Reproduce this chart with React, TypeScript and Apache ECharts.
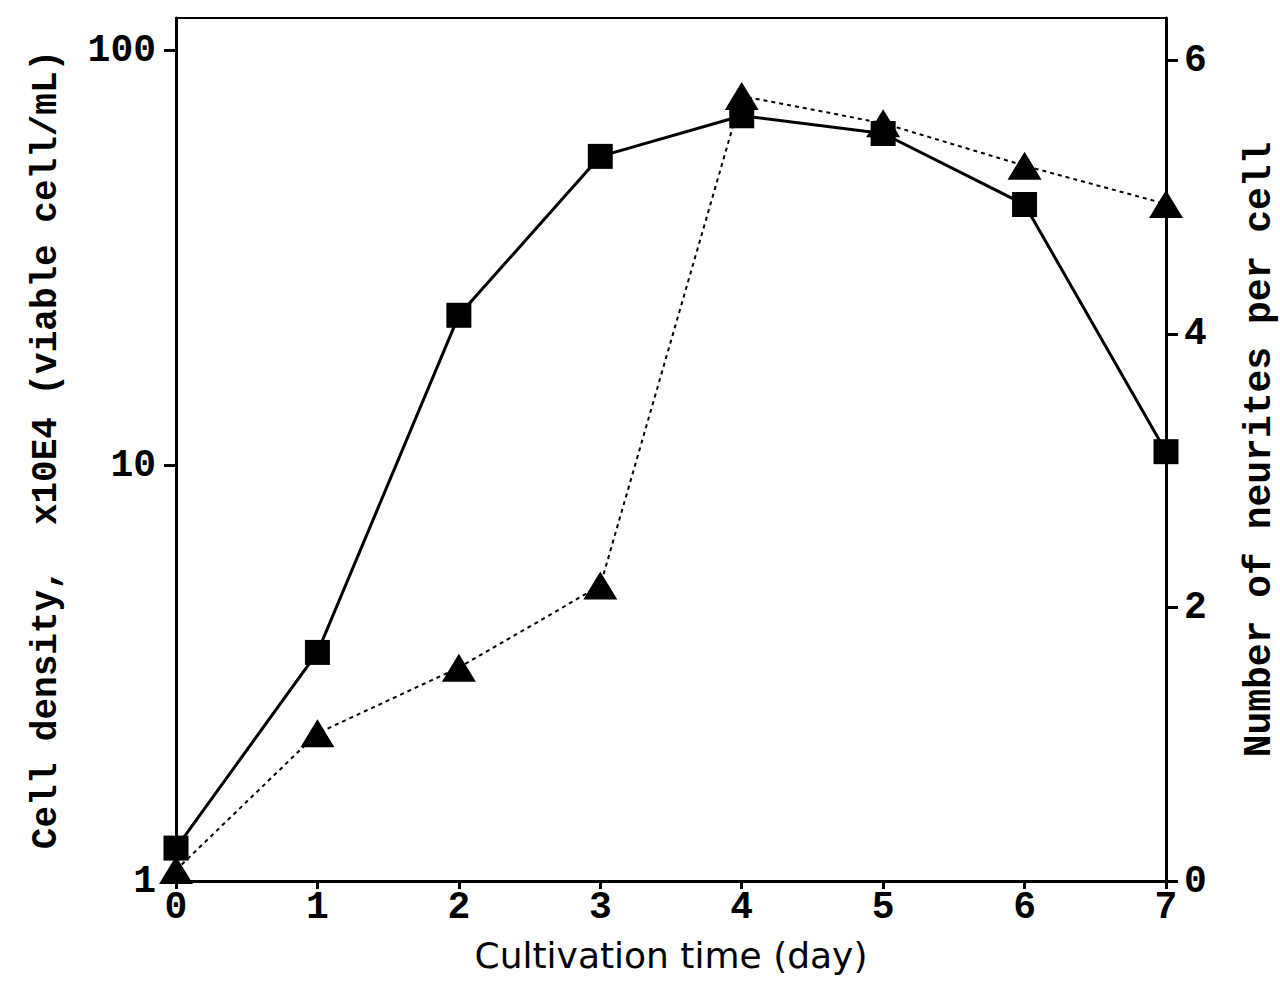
import React, { useEffect, useRef } from "react";
import * as echarts from "echarts";

const days = [0, 1, 2, 3, 4, 5, 6, 7];
const cellDensity = [1.2, 3.55, 23, 55.5, 69.5, 63, 42.5, 10.8];
const neurites = [0.08, 1.08, 1.56, 2.16, 5.74, 5.54, 5.23, 4.95];
const leftTicks = [1, 10, 100];
const rightTicks = [0, 2, 4, 6];

const monoFont = "'Liberation Mono', 'Courier New', monospace";
const sansFont = "'DejaVu Sans', sans-serif";

export default function App() {
  const ref = useRef<HTMLDivElement>(null);
  useEffect(() => {
    if (!ref.current) return;
    const chart = echarts.init(ref.current, null, { renderer: "svg" });
    const option = {
      animation: false,
      backgroundColor: "#ffffff",
      grid: {
        left: 176,
        right: 114,
        top: 18,
        bottom: 114,
        show: true,
        borderColor: "#000",
        borderWidth: 2,
        containLabel: false,
        outerBoundsMode: "none",
      },
      xAxis: {
        type: "value",
        min: 0,
        max: 7,
        interval: 1,
        name: "Cultivation time (day)",
        nameLocation: "middle",
        nameGap: 56,
        nameTextStyle: { fontFamily: sansFont, fontSize: 36, color: "#000" },
        axisLine: { lineStyle: { color: "#000", width: 3 } },
        axisTick: { inside: false, length: 8, lineStyle: { color: "#000", width: 3 } },
        axisLabel: {
          fontFamily: monoFont,
          fontWeight: "bold",
          fontSize: 38,
          color: "#000",
          margin: 7,
        },
        splitLine: { show: false },
      },
      yAxis: [
        {
          type: "log",
          logBase: 10,
          min: 1,
          max: 119.5,
          position: "left",
          name: "Cell density,  x10E4 (viable cell/mL)",
          nameLocation: "middle",
          nameRotate: 90,
          nameGap: 112,
          nameTextStyle: { fontFamily: monoFont, fontWeight: "bold", fontSize: 36, color: "#000" },
          axisLine: { show: true, lineStyle: { color: "#000", width: 3 } },
          axisTick: { show: true, length: 12, customValues: leftTicks, lineStyle: { color: "#000", width: 3 } },
          axisLabel: {
            customValues: leftTicks,
            fontFamily: monoFont,
            fontWeight: "bold",
            fontSize: 38,
            color: "#000",
            margin: 20,
          },
          minorTick: { show: false },
          splitLine: { show: false },
        },
        {
          type: "value",
          min: 0,
          max: 6.31,
          position: "right",
          name: "Number of neurites per cell",
          nameLocation: "middle",
          nameRotate: 90,
          nameGap: 74,
          nameTextStyle: { fontFamily: monoFont, fontWeight: "bold", fontSize: 38, color: "#000" },
          axisLine: { show: true, lineStyle: { color: "#000", width: 3 } },
          axisTick: { show: true, length: 12, customValues: rightTicks, lineStyle: { color: "#000", width: 3 } },
          axisLabel: {
            customValues: rightTicks,
            fontFamily: monoFont,
            fontWeight: "bold",
            fontSize: 38,
            color: "#000",
            margin: 18,
          },
          splitLine: { show: false },
        },
      ],
      series: [
        {
          name: "Neurites",
          type: "line",
          yAxisIndex: 1,
          data: days.map((d, i) => [d, neurites[i]]),
          symbol: "triangle",
          symbolSize: [34, 28],
          itemStyle: { color: "#000" },
          lineStyle: { color: "#000", width: 2, type: [4, 4] },
          clip: false,
          z: 2,
        },
        {
          name: "Cell density",
          type: "line",
          yAxisIndex: 0,
          data: days.map((d, i) => [d, cellDensity[i]]),
          symbol: "rect",
          symbolSize: 25,
          itemStyle: { color: "#000" },
          lineStyle: { color: "#000", width: 3 },
          clip: false,
          z: 3,
        },
      ],
    };
    chart.setOption(option as any);
    return () => chart.dispose();
  }, []);
  return (
    <div
      ref={ref}
      style={{ position: "fixed", left: 0, top: 0, width: 1280, height: 995, background: "#fff" }}
    />
  );
}
